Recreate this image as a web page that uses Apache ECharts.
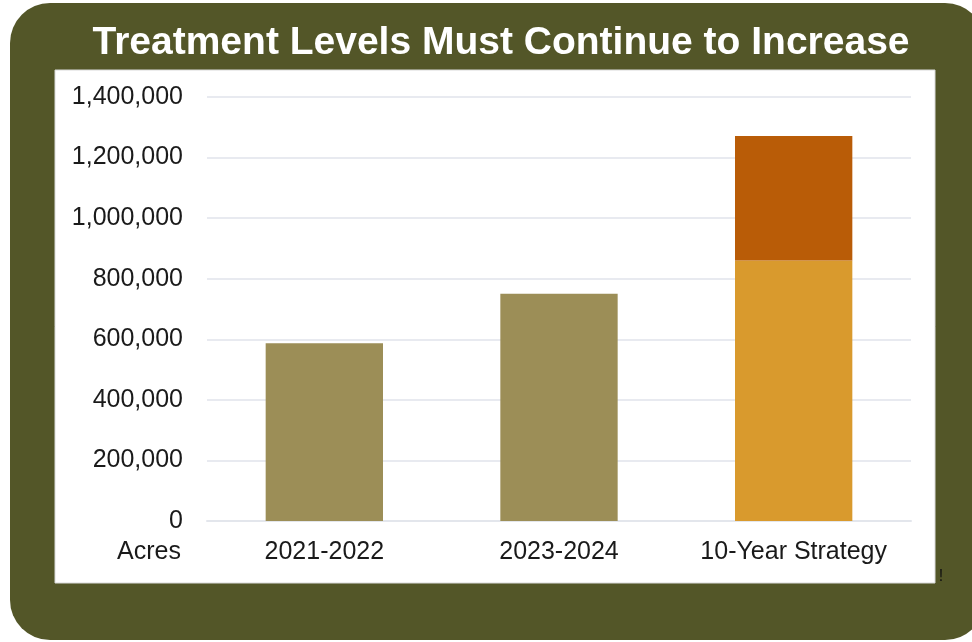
<!DOCTYPE html>
<html>
<head>
<meta charset="utf-8">
<script src="https://cdn.jsdelivr.net/npm/echarts@6/dist/echarts.min.js"></script>
<style>
html,body{margin:0;padding:0;background:#ffffff;}
#chart{width:972px;height:642px;}
</style>
</head>
<body>
<div id="chart"></div>
<script>
const categories = ['2021-2022', '2023-2024', '10-Year Strategy'];
const baseValues = [587000, 750000, 860000];
const additionalValues = [null, null, 411000];
const baseColors = ['#9c8e57', '#9c8e57', '#d99a2d'];
const additionalColor = '#b95c07';
const yTicks = { min: 0, max: 1400000, interval: 200000 };
const titleText = 'Treatment Levels Must Continue to Increase';
const unitLabel = 'Acres';

const chart = echarts.init(document.getElementById('chart'));
const font = '"Liberation Sans", Arial, sans-serif';

chart.setOption({
  animation: false,
  backgroundColor: '#ffffff',
  graphic: [
    { type: 'rect', z: -10, shape: { x: 10, y: 3, width: 975, height: 637, r: 40 }, style: { fill: '#535628' } },
    { type: 'rect', z: -9, shape: { x: 55, y: 70, width: 880, height: 513 }, style: { fill: '#ffffff', stroke: '#d9d9d9', lineWidth: 1 } },
    { type: 'text', z: 10, style: { x: 181, y: 552, text: unitLabel, textAlign: 'right', textVerticalAlign: 'middle', font: '25px ' + font, fill: '#1a1a1a' } },
    { type: 'text', z: 10, style: { x: 941, y: 577, text: '!', textAlign: 'center', textVerticalAlign: 'middle', font: '16px ' + font, fill: '#111111' } }
  ],
  title: {
    text: titleText,
    left: 496,
    textAlign: 'center',
    top: 19,
    textStyle: { color: '#ffffff', fontSize: 39, fontWeight: 'bold', fontFamily: font }
  },
  grid: { left: 207, right: 61, top: 97, bottom: 121 },
  xAxis: {
    type: 'category',
    data: categories,
    axisLine: { show: true, lineStyle: { color: '#e3e6ec', width: 2 } },
    axisTick: { show: false },
    axisLabel: { color: '#1a1a1a', fontSize: 25, fontFamily: font, margin: 19, interval: 0, hideOverlap: false }
  },
  yAxis: {
    type: 'value',
    min: yTicks.min,
    max: yTicks.max,
    interval: yTicks.interval,
    axisLine: { show: false },
    axisTick: { show: false },
    splitLine: { lineStyle: { color: '#e8eaf0', width: 2 } },
    axisLabel: {
      color: '#1a1a1a', fontSize: 25, fontFamily: font, margin: 24,
      formatter: v => v.toLocaleString('en-US')
    }
  },
  series: [
    {
      name: 'Base',
      type: 'bar',
      stack: 'total',
      barWidth: '50%',
      data: baseValues.map((v, i) => ({ value: v, itemStyle: { color: baseColors[i] } }))
    },
    {
      name: 'Additional',
      type: 'bar',
      stack: 'total',
      barWidth: '50%',
      itemStyle: { color: additionalColor },
      data: additionalValues.map(v => (v == null ? '-' : v))
    }
  ]
});
</script>
</body>
</html>
